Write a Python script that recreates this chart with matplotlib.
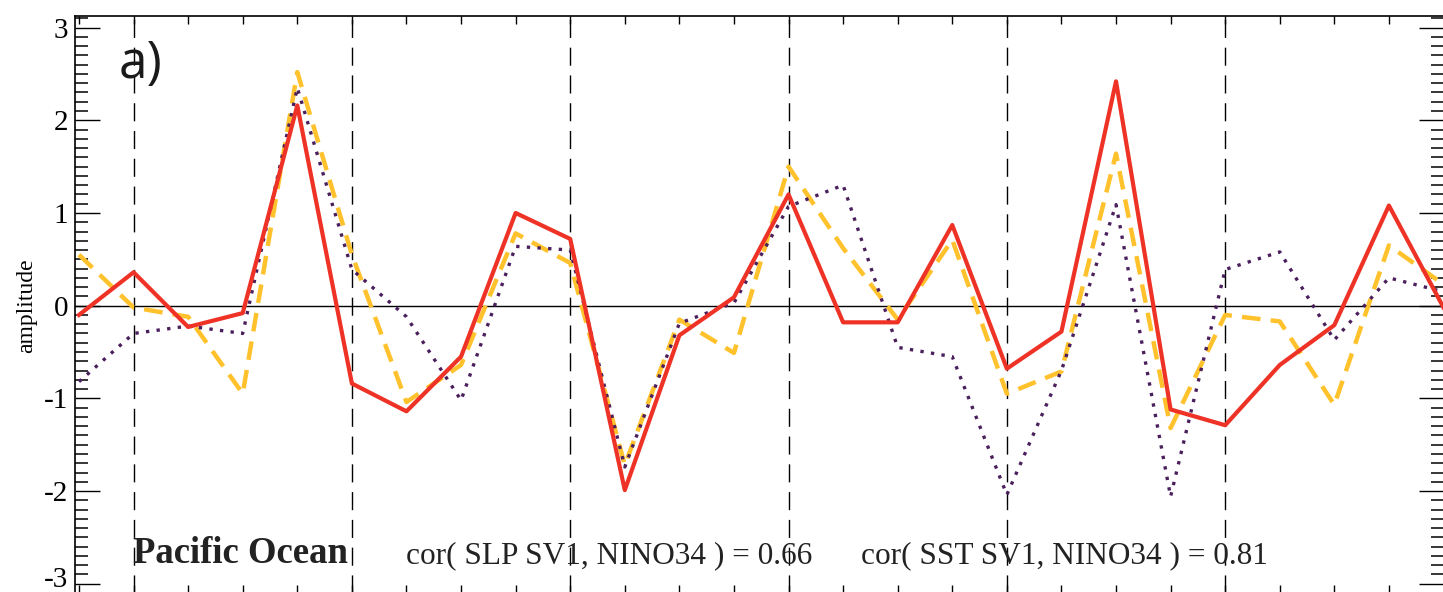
import numpy as np
import matplotlib
matplotlib.use("Agg")
import matplotlib.pyplot as plt
from matplotlib.ticker import MultipleLocator
from matplotlib.transforms import ScaledTranslation

# values, one per time step
steps = list(range(26))
slp_sv1 = [-0.10, 0.36, -0.23, -0.08, 2.16, -0.84, -1.14, -0.55, 1.00, 0.72,
           -1.99, -0.32, 0.09, 1.20, -0.18, -0.18, 0.87, -0.68, -0.28, 2.42,
           -1.12, -1.29, -0.64, -0.21, 1.08, -0.02]
nino34 = [0.55, -0.02, -0.12, -0.95, 2.52, 0.55, -1.04, -0.64, 0.78, 0.46,
          -1.72, -0.15, -0.51, 1.50, 0.62, -0.15, 0.71, -0.95, -0.71, 1.64,
          -1.32, -0.10, -0.17, -1.07, 0.65, 0.23]
sst_sv1 = [-0.82, -0.30, -0.22, -0.30, 2.35, 0.39, -0.12, -1.02, 0.64, 0.60,
           -1.74, -0.19, 0.03, 1.07, 1.30, -0.45, -0.55, -2.04, -0.70, 1.09,
           -2.06, 0.39, 0.58, -0.37, 0.30, 0.15]
divider_steps = [1, 5, 9, 13, 17, 21]
ytick_vals = [-3, -2, -1, 0, 1, 2, 3]
ytick_labels = ["-3", "-2", "-1", "0", "1", "2", "3"]

RED = "#EE3226"
GOLD = "#FFC22C"
PURPLE = "#4A1F5C"
SERIF = "Liberation Serif"

W, H = 1443, 592
fig = plt.figure(figsize=(W / 100, H / 100), dpi=100)
ax = fig.add_axes([75 / W, -1 / H, 1368.5 / W, 577 / H])

for x in divider_steps:
    ax.axvline(x, color="black", lw=1.0, ls=(0, (13, 7)), zorder=1)
ax.axhline(0, color="black", lw=1.0, zorder=1)

ax.plot(steps, nino34, color=GOLD, lw=3.2, dashes=(4.2, 2.3), zorder=2)
ax.plot(steps, sst_sv1, color=PURPLE, lw=2.4, dashes=(1.0, 2.2), zorder=3)
ax.plot(steps, slp_sv1, color=RED, lw=3.0, zorder=4)

ax.set_xlim(-0.073, 24.886)
ax.set_ylim(-3.1, 3.125)

ax.set_xticks(steps)
ax.tick_params(axis="x", which="both", direction="in", top=True, bottom=True,
               length=5.5, width=1.0, labelbottom=False)
ax.set_yticks(ytick_vals)
ax.set_yticklabels(ytick_labels, fontfamily=SERIF, fontsize=21)
ax.yaxis.set_minor_locator(MultipleLocator(0.1))
ax.tick_params(axis="y", which="major", direction="in", left=True, right=True,
               length=18, width=1.0, pad=5)
ax.tick_params(axis="y", which="minor", direction="in", left=True, right=True,
               length=9.4, width=1.1)
for s in ax.spines.values():
    s.set_linewidth(1.2)

# lift the bottom label a little so it stays inside the picture
low = ax.get_yticklabels()[0]
low.set_transform(low.get_transform() + ScaledTranslation(0, 5 / 72, fig.dpi_scale_trans))

fig.text(27 / W, (H - 306) / H, "amplitude", rotation=90, ha="center",
         va="center", fontfamily=SERIF, fontsize=17)
fig.text(119 / W, (H - 78) / H, "a)", ha="left", va="baseline",
         fontfamily="Open Sans", fontsize=37, color="#1a1a1a")

fig.text(133 / W, (H - 563) / H, "Pacific Ocean", ha="left", va="baseline",
         fontfamily=SERIF, fontweight="bold", fontsize=26.5, color="#222222")
fig.text(406 / W, (H - 563) / H, "cor( SLP SV1, NINO34 ) = 0.66", ha="left",
         va="baseline", fontfamily=SERIF, fontsize=22.5, color="#222222")
fig.text(861 / W, (H - 563) / H, "cor( SST SV1, NINO34 ) = 0.81", ha="left",
         va="baseline", fontfamily=SERIF, fontsize=22.5, color="#222222")

fig.savefig("out.png", dpi=100)
